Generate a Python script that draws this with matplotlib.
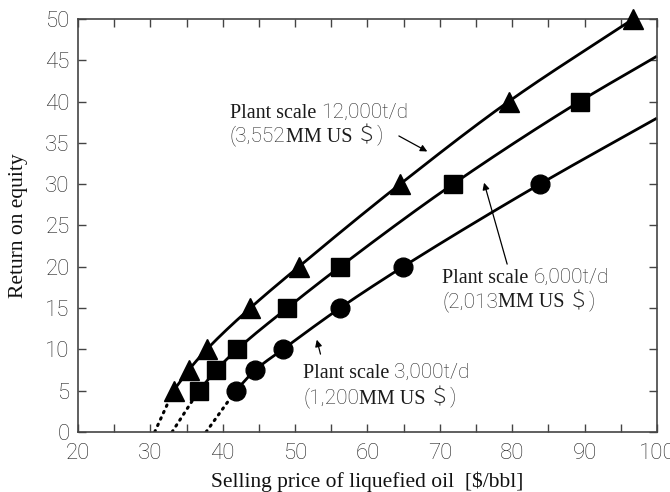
import numpy as np
import matplotlib
matplotlib.use("Agg")
import matplotlib.pyplot as plt
from matplotlib.offsetbox import TextArea, HPacker, AnnotationBbox

# ---- data ----
tri_x = [33.2, 35.3, 37.8, 43.8, 50.5, 64.5, 79.5, 96.7]
tri_y = [5, 7.5, 10, 15, 20, 30, 40, 50]
sq_x = [36.7, 39.1, 42.0, 48.9, 56.2, 71.8, 89.3]
sq_y = [5, 7.5, 10, 15, 20, 30, 40]
circ_x = [41.8, 44.5, 48.3, 56.2, 64.9, 83.8]
circ_y = [5, 7.5, 10, 15, 20, 30]
# curve continuations to the right edge
sq_end = (100, 45.5)
circ_end = (100, 38.0)
# dotted extrapolation down to zero return
zero_x = [30.6, 33.0, 37.7]

xticks = [20, 30, 40, 50, 60, 70, 80, 90, 100]
yticks = [0, 5, 10, 15, 20, 25, 30, 35, 40, 45, 50]

scales = ['12,000t/d', '6,000t/d', '3,000t/d']
costs = ['3,552', '2,013', '1,200']


def pchip(x, y, n=200):
    x = np.asarray(x, float); y = np.asarray(y, float)
    h = np.diff(x); d = np.diff(y) / h
    m = np.zeros_like(x)
    for k in range(1, len(x) - 1):
        if d[k - 1] * d[k] > 0:
            w1 = 2 * h[k] + h[k - 1]; w2 = h[k] + 2 * h[k - 1]
            m[k] = (w1 + w2) / (w1 / d[k - 1] + w2 / d[k])
    m[0] = d[0]; m[-1] = d[-1]
    xs = np.linspace(x[0], x[-1], n)
    idx = np.clip(np.searchsorted(x, xs) - 1, 0, len(x) - 2)
    t = (xs - x[idx]) / h[idx]
    h00 = 2 * t**3 - 3 * t**2 + 1; h10 = t**3 - 2 * t**2 + t
    h01 = -2 * t**3 + 3 * t**2; h11 = t**3 - t**2
    ys = h00 * y[idx] + h10 * h[idx] * m[idx] + h01 * y[idx + 1] + h11 * h[idx] * m[idx + 1]
    return xs, ys


fig = plt.figure(figsize=(6.7, 4.92), dpi=100)
ax = fig.add_axes([0.1164, 0.122, 0.8642, 0.8394])

series = [
    (tri_x, tri_y, None, '^', zero_x[0], 14),
    (sq_x, sq_y, sq_end, 's', zero_x[1], 12.5),
    (circ_x, circ_y, circ_end, 'o', zero_x[2], 13.5),
]
for xs, ys, end, mk, zx, ms in series:
    cx = list(xs) + ([end[0]] if end else [])
    cy = list(ys) + ([end[1]] if end else [])
    sx, sy = pchip(cx, cy)
    ax.plot(sx, sy, color='black', lw=2.0, solid_capstyle='butt', zorder=2, clip_on=False)
    ax.plot([zx, xs[0]], [0, ys[0]], color='black', lw=2.2, ls=(0, (0.5, 1.8)),
            dash_capstyle='round', zorder=2)
    ax.plot(xs, ys, ls='none', marker=mk, ms=ms, color='black', zorder=3, clip_on=False)

ax.set_xlim(20, 100)
ax.set_ylim(0, 50)
ax.set_xticks(xticks)
ax.set_yticks(yticks)
ax.set_xticks(np.arange(25, 100, 10), minor=True)
ax.tick_params(which='both', direction='in', top=True, right=True, length=6, width=1.0,
               color='#444444', labelsize=16, labelcolor='#222222')
ax.tick_params(axis='x', pad=8)
ax.tick_params(axis='y', pad=6)
for lab in ax.get_xticklabels() + ax.get_yticklabels():
    lab.set_family('Roboto')
    lab.set_fontweight('light')
for s in ax.spines.values():
    s.set_color('#444444')
    s.set_linewidth(1.2)

ax.set_xlabel('Selling price of liquefied oil  [$/bbl]', family='Liberation Serif',
              fontsize=15.5, color='#111111')
ax.set_ylabel('Return on equity', family='Liberation Serif', fontsize=15.5, color='#111111')
ax.xaxis.set_label_coords(0.5, -0.095)
ax.yaxis.set_label_coords(-0.087, 0.5)

SERIF = dict(family='Liberation Serif', size=14.5, color='#1a1a1a')
SANS = dict(family=['Roboto', 'Noto Sans CJK JP'], size=15, color='#2a2a2a', weight='light')


def mixed_line(x, y, pieces):
    boxes = [TextArea(txt, textprops=props) for txt, props in pieces]
    pack = HPacker(children=boxes, align='baseline', pad=0, sep=0)
    ab = AnnotationBbox(pack, (x, y), xycoords='data', box_alignment=(0, 0.5),
                        frameon=False, pad=0, zorder=4)
    ax.add_artist(ab)


def label(x, y1, y2, scale, cost):
    mixed_line(x, y1, [('Plant scale ', SERIF), (scale, SANS)])
    mixed_line(x, y2, [('(' + cost, SANS), ('MM US', SERIF), ('\u2009＄)', SANS)])


label(41.0, 38.6, 35.9, scales[0], costs[0])
ax.annotate('', xy=(68.6, 33.8), xytext=(64.0, 36.0),
            arrowprops=dict(arrowstyle='-|>', color='black', lw=0.9, mutation_scale=10))

label(70.3, 18.6, 15.9, scales[1], costs[1])
ax.annotate('', xy=(76.0, 30.5), xytext=(79.4, 20.0),
            arrowprops=dict(arrowstyle='-|>', color='black', lw=0.9, mutation_scale=10))

label(51.1, 7.2, 4.2, scales[2], costs[2])
ax.annotate('', xy=(52.9, 11.5), xytext=(53.6, 9.1),
            arrowprops=dict(arrowstyle='-|>', color='black', lw=0.9, mutation_scale=10))

fig.savefig('out.png', dpi=100)
